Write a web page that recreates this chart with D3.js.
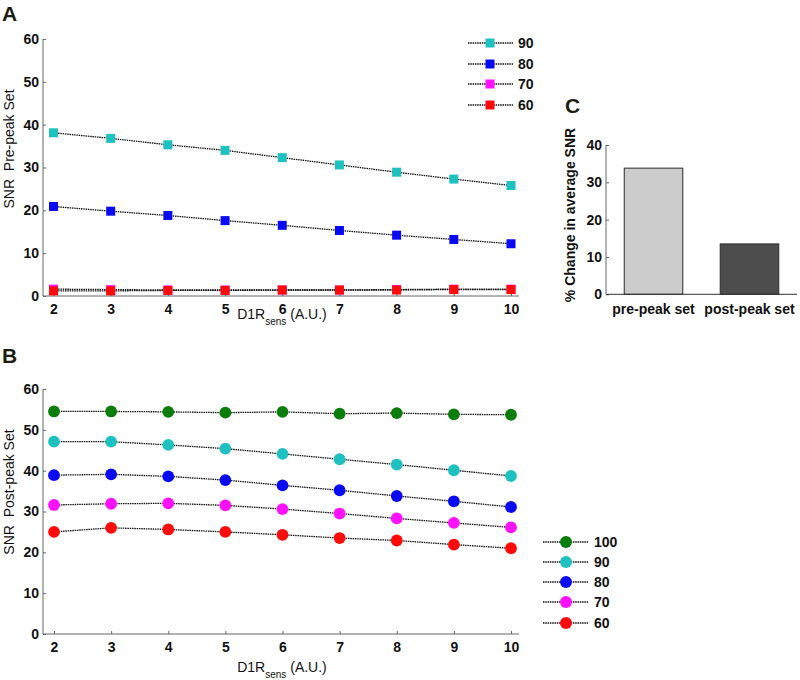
<!DOCTYPE html>
<html>
<head>
<meta charset="utf-8">
<script src="https://cdn.jsdelivr.net/npm/d3@7"></script>
<style>
  html, body { margin: 0; padding: 0; background: #ffffff; }
  svg { display: block; font-family: "Liberation Sans", Arial, sans-serif; }
  .tick text { font-weight: bold; font-size: 14px; fill: #111; }
  .tick line { stroke: #666; }
</style>
</head>
<body>
<svg id="chart" width="800" height="680"></svg>
<script>
// ---------- data ----------
const d1rSens = [2, 3, 4, 5, 6, 7, 8, 9, 10];

// Panel A: SNR pre-peak set (square markers)
const preLabels = ["90", "80", "70", "60"];
const pre90 = [38.1, 36.8, 35.3, 34.0, 32.3, 30.6, 28.9, 27.3, 25.8];
const pre80 = [20.9, 19.8, 18.8, 17.6, 16.5, 15.3, 14.2, 13.2, 12.2];
const pre70 = [1.6, 1.5, 1.4, 1.4, 1.4, 1.4, 1.5, 1.6, 1.6];
const pre60 = [1.2, 1.2, 1.3, 1.3, 1.4, 1.4, 1.4, 1.5, 1.5];

// Panel B: SNR post-peak set (circle markers)
const postLabels = ["100", "90", "80", "70", "60"];
const post100 = [54.5, 54.5, 54.4, 54.2, 54.4, 53.95, 54.1, 53.8, 53.7];
const post90 = [47.1, 47.1, 46.3, 45.4, 44.1, 42.8, 41.5, 40.1, 38.7];
const post80 = [38.9, 39.1, 38.6, 37.7, 36.4, 35.2, 33.8, 32.5, 31.1];
const post70 = [31.6, 31.9, 32.0, 31.5, 30.6, 29.5, 28.3, 27.2, 26.1];
const post60 = [25.0, 26.0, 25.6, 25.0, 24.3, 23.5, 22.9, 21.9, 21.0];

// Panel C: % change in average SNR
const barCategories = ["pre-peak set", "post-peak set"];
const barValues = [33.8, 13.5];

// tick labels
const xTicks = [2, 3, 4, 5, 6, 7, 8, 9, 10];
const snrTicks = [0, 10, 20, 30, 40, 50, 60];
const pctTicks = [0, 10, 20, 30, 40];

// ---------- styles ----------
const colorMap = { "100": "#0b7d0b", "90": "#1fc0c0", "80": "#0a0af2", "70": "#ff10ff", "60": "#ff0a0a" };
const barFill = ["#cccccc", "#4d4d4d"];
const axisColor = "#666666";
const letterColor = "#1c1e10";

const svg = d3.select("#chart");

function dottedLine(g, x, y, values) {
  const line = d3.line().x((d, i) => x(d1rSens[i])).y(d => y(d));
  g.append("path").attr("d", line(values))
    .attr("fill", "none").attr("stroke", "#111").attr("stroke-width", 1.3)
    .attr("stroke-dasharray", "1.5,0.8");
}

function yAxis(g, scale, ticks, xPos, yTop, yBot) {
  const ax = d3.axisLeft(scale).tickValues(ticks).tickSizeInner(-3).tickSizeOuter(0).tickPadding(4);
  const ga = g.append("g").attr("transform", `translate(${xPos},0)`).call(ax);
  ga.select(".domain").remove();
  g.append("line").attr("x1", xPos).attr("x2", xPos).attr("y1", yTop).attr("y2", yBot)
    .attr("stroke", axisColor).attr("stroke-width", 1);
}

function xAxis(g, scale, ticks, yPos, xLeft, xRight) {
  const ax = d3.axisBottom(scale).tickValues(ticks).tickSizeInner(-3).tickSizeOuter(0).tickPadding(8).tickFormat(d3.format("d"));
  const ga = g.append("g").attr("transform", `translate(0,${yPos})`).call(ax);
  ga.select(".domain").remove();
  g.append("line").attr("x1", xLeft).attr("x2", xRight).attr("y1", yPos).attr("y2", yPos)
    .attr("stroke", axisColor).attr("stroke-width", 1);
}

function xLabel(g, cx, baseline) {
  const t = g.append("text").attr("x", cx).attr("y", baseline).attr("text-anchor", "middle")
    .attr("font-size", 14).attr("fill", "#111");
  t.append("tspan").text("D1R");
  t.append("tspan").attr("font-size", 10).attr("dy", 6).text("sens");
  t.append("tspan").attr("dy", -6).text(" (A.U.)");
}

function panelLetter(x, y, txt) {
  svg.append("text").attr("x", x).attr("y", y).attr("font-size", 21).attr("font-weight", "bold")
    .attr("fill", letterColor).text(txt);
}

// ---------- Panel A ----------
{
  const g = svg.append("g");
  const x = d3.scaleLinear().domain([2, 10]).range([53.5, 511]);
  const y = d3.scaleLinear().domain([0, 60]).range([296, 39]);
  yAxis(g, y, snrTicks, 43, 39, 296);
  xAxis(g, x, xTicks, 296, 43, 519);
  const series = [pre90, pre80, pre70, pre60];
  const sq = 9;
  series.forEach((vals, si) => {
    const c = colorMap[preLabels[si]];
    dottedLine(g, x, y, vals);
    g.selectAll(null).data(vals).enter().append("rect")
      .attr("x", (d, i) => x(d1rSens[i]) - sq / 2).attr("y", d => y(d) - sq / 2)
      .attr("width", sq).attr("height", sq).attr("fill", c);
  });
  g.append("text").attr("transform", "translate(14,149) rotate(-90)").attr("text-anchor", "middle")
    .attr("font-size", 14).attr("fill", "#111").style("white-space", "pre").text("SNR  Pre-peak Set");
  xLabel(g, 282, 319);
  // legend
  const lg = g.append("g");
  const rows = [43, 64, 84, 105];
  preLabels.forEach((lab, i) => {
    const yy = rows[i];
    lg.append("line").attr("x1", 468).attr("x2", 513).attr("y1", yy).attr("y2", yy)
      .attr("stroke", "#111").attr("stroke-width", 1.3).attr("stroke-dasharray", "1.5,0.8");
    lg.append("rect").attr("x", 490 - sq / 2).attr("y", yy - sq / 2).attr("width", sq).attr("height", sq)
      .attr("fill", colorMap[lab]);
    lg.append("text").attr("x", 518).attr("y", yy).attr("dy", "0.36em").attr("font-size", 14)
      .attr("font-weight", "bold").attr("fill", "#111").text(lab);
  });
  panelLetter(2, 21, "A");
}

// ---------- Panel B ----------
{
  const g = svg.append("g");
  const x = d3.scaleLinear().domain([2, 10]).range([54, 511]);
  const y = d3.scaleLinear().domain([0, 60]).range([634, 389]);
  yAxis(g, y, snrTicks, 43, 389, 634);
  xAxis(g, x, xTicks, 634, 43, 519);
  const series = [post100, post90, post80, post70, post60];
  series.forEach((vals, si) => {
    const c = colorMap[postLabels[si]];
    dottedLine(g, x, y, vals);
    g.selectAll(null).data(vals).enter().append("circle")
      .attr("cx", (d, i) => x(d1rSens[i])).attr("cy", d => y(d)).attr("r", 5.9).attr("fill", c);
  });
  g.append("text").attr("transform", "translate(14,492) rotate(-90)").attr("text-anchor", "middle")
    .attr("font-size", 14).attr("fill", "#111").style("white-space", "pre").text("SNR  Post-peak Set");
  xLabel(g, 282, 672);
  const rows = [542, 562, 582, 602, 623];
  postLabels.forEach((lab, i) => {
    const yy = rows[i];
    g.append("line").attr("x1", 543).attr("x2", 588).attr("y1", yy).attr("y2", yy)
      .attr("stroke", "#111").attr("stroke-width", 1.3).attr("stroke-dasharray", "1.5,0.8");
    g.append("circle").attr("cx", 566).attr("cy", yy).attr("r", 6).attr("fill", colorMap[lab]);
    g.append("text").attr("x", 594).attr("y", yy).attr("dy", "0.36em").attr("font-size", 14)
      .attr("font-weight", "bold").attr("fill", "#111").text(lab);
  });
  panelLetter(2, 363, "B");
}

// ---------- Panel C ----------
{
  const g = svg.append("g");
  const x = d3.scaleBand().domain(barCategories).range([606, 797]).paddingInner(0.39).paddingOuter(0.19);
  const y = d3.scaleLinear().domain([0, 40]).range([294.3, 145]);
  g.selectAll(null).data(barValues).enter().append("rect")
    .attr("x", (d, i) => x(barCategories[i])).attr("y", d => y(d))
    .attr("width", x.bandwidth()).attr("height", d => y(0) - y(d))
    .attr("fill", (d, i) => barFill[i]).attr("stroke", "#2a2a2a").attr("stroke-width", 1);
  yAxis(g, y, pctTicks, 606, 145, 294.3);
  g.append("line").attr("x1", 606).attr("x2", 797).attr("y1", 294.3).attr("y2", 294.3)
    .attr("stroke", "#333").attr("stroke-width", 1);
  barCategories.forEach(cat => {
    g.append("text").attr("x", x(cat) + x.bandwidth() / 2).attr("y", 314).attr("text-anchor", "middle")
      .attr("font-size", 14).attr("font-weight", "bold").attr("fill", "#111").text(cat);
  });
  g.append("text").attr("transform", "translate(575,215) rotate(-90)").attr("text-anchor", "middle")
    .attr("font-size", 14).attr("font-weight", "bold").attr("fill", "#111").text("% Change in average SNR");
  panelLetter(565, 113, "C");
}
</script>
</body>
</html>
